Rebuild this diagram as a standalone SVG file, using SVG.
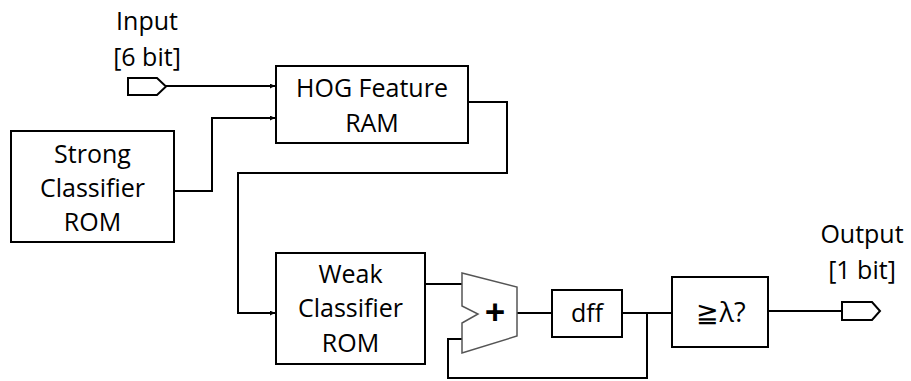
<svg xmlns="http://www.w3.org/2000/svg" width="911" height="381" viewBox="0 0 911 381">
<style>
.box{fill:#fff;stroke:#000;stroke-width:2}
.wire{fill:none;stroke:#000;stroke-width:2}
.t{font-family:"Open Sans","Liberation Sans",sans-serif;font-size:25px;fill:#000;text-anchor:middle}
</style>
<defs>
<marker id="arr" viewBox="0 0 10 10" refX="10" refY="5" markerWidth="5" markerHeight="5" orient="auto" markerUnits="userSpaceOnUse">
<path d="M0,0 L10,5 L0,10 Z" fill="#000"/>
</marker>
</defs>
<rect width="911" height="381" fill="#fff"/>
<g id="connectors">
<path class="wire" d="M166,86 H275" marker-end="url(#arr)"/>
<path class="wire" d="M174,191 H212 V118 H275" marker-end="url(#arr)"/>
<path class="wire" d="M468,102 H507 V173 H238 V313 H275" marker-end="url(#arr)"/>
<path class="wire" d="M425,284 H462"/>
<path class="wire" d="M517,313 H552"/>
<path class="wire" d="M622,313 H672"/>
<path class="wire" d="M647,313 V378 H448 V339 H462"/>
<path class="wire" d="M768,311 H842"/>
</g>
<g id="input">
<text class="t" x="147" y="30">Input</text>
<text class="t" x="147" y="66">[6 bit]</text>
<path d="M128,78 H157 L166,86.5 L157,95 H128 Z" fill="#fff" stroke="#000" stroke-width="2"/>
</g>
<g id="hog">
<rect class="box" x="276" y="66" width="192" height="77"/>
<text class="t" x="372" y="97">HOG Feature</text>
<text class="t" x="372" y="132">RAM</text>
</g>
<g id="strong">
<rect class="box" x="11" y="131" width="163" height="111"/>
<text class="t" x="92.5" y="163">Strong</text>
<text class="t" x="92.5" y="197">Classifier</text>
<text class="t" x="92.5" y="231">ROM</text>
</g>
<g id="weak">
<rect class="box" x="276" y="253" width="149" height="111"/>
<text class="t" x="350.5" y="283">Weak</text>
<text class="t" x="350.5" y="317">Classifier</text>
<text class="t" x="350.5" y="352">ROM</text>
</g>
<g id="adder">
<path d="M462,273 L517,287 V336 L462,353 V323 L478,314 L462,306 Z" fill="#fff" stroke="#555" stroke-width="1.5"/>
<text class="t" x="495" y="325" style="font-weight:bold;font-size:36px">+</text>
</g>
<g id="dff">
<rect class="box" x="552" y="290" width="70" height="47"/>
<text class="t" x="587" y="322">dff</text>
</g>
<g id="compare">
<rect class="box" x="672" y="277" width="96" height="70"/>
<text class="t" x="721" y="322" style="font-size:27px">≧λ?</text>
</g>
<g id="output">
<text class="t" x="862" y="243">Output</text>
<text class="t" x="862" y="279">[1 bit]</text>
<path d="M842,302 H872 L880,311 L872,320 H842 Z" fill="#fff" stroke="#000" stroke-width="2"/>
</g>
</svg>
